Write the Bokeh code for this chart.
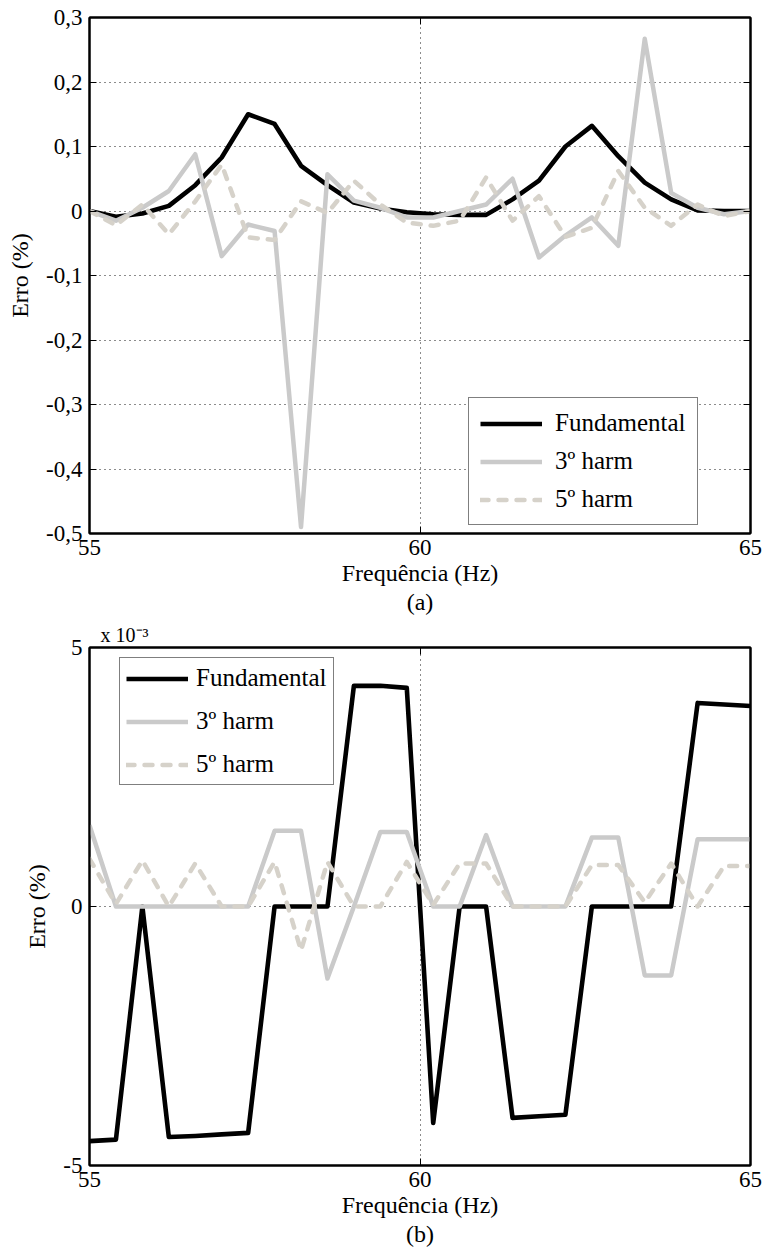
from bokeh.plotting import figure
from bokeh.models import (Range1d, FixedTicker, LinearAxis, Legend, Title,
                          LegendItem, CustomJSTickFormatter)
from bokeh.layouts import column
from bokeh.embed import file_html
from bokeh.resources import INLINE

# ---------------- data ----------------
freq = [55.0, 55.4, 55.8, 56.2, 56.6, 57.0, 57.4, 57.8, 58.2, 58.6, 59.0, 59.4, 59.8,
        60.2, 60.6, 61.0, 61.4, 61.8, 62.2, 62.6, 63.0, 63.4, 63.8, 64.2, 64.6, 65.0]

# (a) error in %
fund_a = [0.000, -0.009, -0.004, 0.008, 0.040, 0.083, 0.150, 0.135, 0.070, 0.040, 0.013, 0.004, -0.002,
          -0.005, -0.006, -0.006, 0.018, 0.047, 0.100, 0.132, 0.085, 0.044, 0.018, 0.001, 0.000, 0.000]
h3_a = [0.000, -0.015, 0.005, 0.031, 0.088, -0.070, -0.021, -0.031, -0.490, 0.057, 0.016, 0.005, -0.010,
        -0.010, 0.000, 0.010, 0.050, -0.072, -0.038, -0.010, -0.054, 0.267, 0.028, 0.005, -0.005, 0.000]
h5_a = [0.000, -0.022, 0.010, -0.036, 0.015, 0.072, -0.041, -0.045, 0.015, -0.003, 0.047, 0.010, -0.018,
        -0.023, -0.015, 0.052, -0.015, 0.023, -0.040, -0.026, 0.062, 0.005, -0.023, 0.010, -0.008, 0.000]

# (b) error in % (units of 10^-3)
fund_b = [-4.53, -4.50, 0.00, -4.45, -4.43, -4.40, -4.37, 0.00, 0.00, 0.00, 4.26, 4.26, 4.22,
          -4.18, 0.00, 0.00, -4.08, -4.05, -4.02, 0.00, 0.00, 0.00, 0.00, 3.93, 3.90, 3.87]
h3_b = [1.57, 0.00, 0.00, 0.00, 0.00, 0.00, 0.00, 1.46, 1.46, -1.39, 0.00, 1.44, 1.44,
        0.00, 0.00, 1.38, 0.00, 0.00, 0.00, 1.33, 1.33, -1.33, -1.33, 1.30, 1.30, 1.30]
h5_b = [0.92, 0.05, 0.89, 0.00, 0.83, 0.00, 0.00, 0.86, -0.85, 0.86, 0.00, 0.00, 0.86,
        0.03, 0.83, 0.83, 0.00, 0.00, 0.00, 0.80, 0.80, 0.08, 0.83, 0.00, 0.78, 0.78]

series_names = ["Fundamental", "3º harm", "5º harm"]

x_ticks = [55, 60, 65]
top_yticks = [-0.5, -0.4, -0.3, -0.2, -0.1, 0.0, 0.1, 0.2, 0.3]
top_ytick_labels = ["-0,5", "-0,4", "-0,3", "-0,2", "-0,1", "0", "0,1", "0,2", "0,3"]
bot_yticks = [-5, 0, 5]
bot_ytick_labels = ["-5", "0", "5"]

x_label = "Frequência (Hz)"
y_label = "Erro (%)"
captions = ["(a)", "(b)"]
exponent_text = "x 10⁻³"

# ---------------- style ----------------
FONT = "Liberation Serif"
TICK_FS = "23px"
LABEL_FS = "24px"
LEG_FS = "25px"
C_FUND = "#000000"
C_H3 = "#cacaca"
C_H5 = "#d6d2ca"


def build(ys, yr, yticks, ytick_labels, height, top_b, bottom_b, leg_loc, leg_pad,
          leg_space, leg_standoff, sub):
    p = figure(width=771, height=height, output_backend="svg", toolbar_location=None,
               x_range=Range1d(55, 65), y_range=Range1d(*yr),
               min_border_left=89, min_border_right=21,
               min_border_top=top_b, min_border_bottom=bottom_b)
    p.background_fill_color = "white"
    p.border_fill_color = "white"
    p.outline_line_color = "black"
    p.outline_line_width = 2

    for ax in (p.xaxis[0], p.yaxis[0]):
        ax.axis_line_width = 2
        ax.major_tick_in = 7
        ax.major_tick_out = 0
        ax.major_tick_line_width = 1
        ax.minor_tick_line_color = None
        ax.major_label_text_font = FONT
        ax.major_label_text_font_size = TICK_FS
        ax.major_label_text_color = "black"
        ax.axis_label_text_font = FONT
        ax.axis_label_text_font_size = LABEL_FS
        ax.axis_label_text_font_style = "normal"
        ax.axis_label_text_color = "black"
    p.xaxis.ticker = FixedTicker(ticks=x_ticks)
    p.yaxis.ticker = FixedTicker(ticks=yticks)
    p.yaxis.major_label_overrides = dict(zip(yticks, ytick_labels))
    p.xaxis.major_label_standoff = 6
    p.yaxis.major_label_standoff = 7
    p.xaxis.axis_label = x_label
    p.xaxis.axis_label_standoff = 2
    p.yaxis.axis_label = y_label
    p.yaxis.axis_label_standoff = 10

    # tick-only axes on the right and top (box style)
    blank = CustomJSTickFormatter(code="return ''")
    for side, tk in (("right", yticks), ("above", x_ticks)):
        ax = LinearAxis(ticker=FixedTicker(ticks=tk), formatter=blank,
                        major_tick_in=7, major_tick_out=0, minor_tick_line_color=None,
                        axis_line_width=2, major_label_text_font_size="1px",
                        major_label_standoff=0)
        p.add_layout(ax, side)

    for g in (p.xgrid[0], p.ygrid[0]):
        g.grid_line_color = "black"
        g.grid_line_width = 1
        g.grid_line_dash = "1 4"
        g.grid_line_alpha = 0.9

    r1 = p.line(freq, ys[0], line_color=C_FUND, line_width=4.6, line_join="round")
    r2 = p.line(freq, ys[1], line_color=C_H3, line_width=4.5, line_join="round")
    r3 = p.line(freq, ys[2], line_color=C_H5, line_width=4.5, line_join="round",
                line_dash="8 10", line_cap="round")

    legend = Legend(items=[LegendItem(label=series_names[0], renderers=[r1]),
                           LegendItem(label=series_names[1], renderers=[r2]),
                           LegendItem(label=series_names[2], renderers=[r3])],
                    location=leg_loc)
    legend.label_text_font = FONT
    legend.label_text_font_size = LEG_FS
    legend.label_text_color = "black"
    legend.glyph_width = 62
    legend.glyph_height = 25
    legend.label_height = 25
    legend.spacing = leg_space
    legend.padding = leg_pad
    legend.margin = 0
    legend.label_standoff = leg_standoff
    legend.border_line_color = "black"
    legend.border_line_width = 1.5
    legend.background_fill_alpha = 1
    p.add_layout(legend)

    cap = Title(text=sub, align="center", vertical_align="top", text_font=FONT,
                text_font_size=LABEL_FS, text_font_style="normal",
                text_color="black", standoff=0)
    p.add_layout(cap, "below")
    return p


p1 = build([fund_a, h3_a, h5_a], (-0.5, 0.3), top_yticks, top_ytick_labels,
           618, 17, 85, (379, 8), 11, 10, 13, captions[0])
p2 = build([fund_b, h3_b, h5_b], (-5, 5), bot_yticks, bot_ytick_labels,
           635, 29, 88, (30, 380), 6, 15, 8, captions[1])

# exponent of the lower plot's y axis
p2.add_layout(Title(text=exponent_text, align="left", offset=11, text_font=FONT,
                    text_font_size="20px", text_font_style="normal",
                    text_color="black", standoff=4), "above")

layout = column(p1, p2, spacing=0)
open("out.html", "w").write(file_html(layout, INLINE))
